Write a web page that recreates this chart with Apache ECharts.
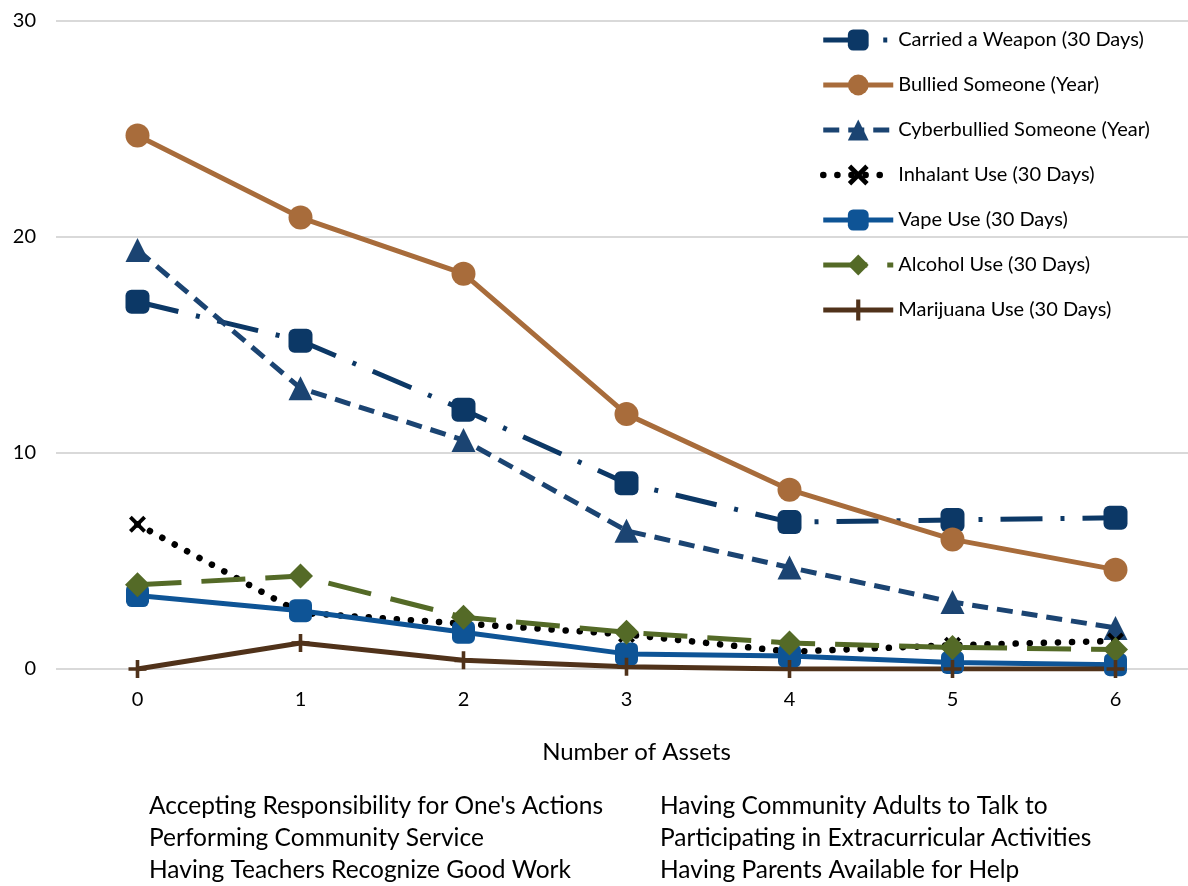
<!DOCTYPE html>
<html>
<head>
<meta charset="utf-8">
<script src="https://cdn.jsdelivr.net/npm/echarts@6/dist/echarts.min.js"></script>
<style>
  html, body { margin: 0; padding: 0; background: #fff; }
  #chart { width: 1188px; height: 886px; }
</style>
</head>
<body>
<div id="chart"></div>
<script>
// Number of developmental assets on the x axis
const categories = ['0', '1', '2', '3', '4', '5', '6'];
const yTicks = { min: 0, max: 30, interval: 10 };

// Percent of students reporting each behaviour
const weapon       = [17.0, 15.2, 12.0, 8.6, 6.8, 6.9, 7.0];
const bullied      = [24.7, 20.9, 18.3, 11.8, 8.3, 6.0, 4.6];
const cyberbullied = [19.4, 13.0, 10.6, 6.4, 4.7, 3.1, 1.9];
const inhalant     = [6.7, 2.6, 2.1, 1.6, 0.8, 1.1, 1.3];
const vape         = [3.4, 2.7, 1.7, 0.7, 0.6, 0.3, 0.2];
const alcohol      = [3.9, 4.3, 2.4, 1.7, 1.2, 1.0, 0.9];
const marijuana    = [0.0, 1.2, 0.4, 0.1, 0.0, 0.0, 0.0];

const seriesNames = [
  'Carried a Weapon (30 Days)',
  'Bullied Someone (Year)',
  'Cyberbullied Someone (Year)',
  'Inhalant Use (30 Days)',
  'Vape Use (30 Days)',
  'Alcohol Use (30 Days)',
  'Marijuana Use (30 Days)'
];

const assetsLeft = [
  "Accepting Responsibility for One's Actions",
  'Performing Community Service',
  'Having Teachers Recognize Good Work'
];
const assetsRight = [
  'Having Community Adults to Talk to',
  'Participating in Extracurricular Activities',
  'Having Parents Available for Help'
];

const FONT = 'Lato, "Open Sans", sans-serif';
const xMark = 'path://M0,1.6 L1.6,0 L10,8.4 L8.4,10 Z M8.4,0 L10,1.6 L1.6,10 L0,8.4 Z';
const plusMark = 'path://M4,0 L6,0 L6,4 L10,4 L10,6 L6,6 L6,10 L4,10 L4,6 L0,6 L0,4 L4,4 Z';

function line(name, data, color, width, type, symbol, size, cap) {
  return {
    name: name,
    type: 'line',
    data: data,
    symbol: symbol,
    symbolSize: size,
    showSymbol: true,
    animation: false,
    itemStyle: { color: color, borderWidth: 0 },
    lineStyle: { color: color, width: width, type: type, cap: cap || 'butt', join: 'round' },
    emphasis: { disabled: true }
  };
}

const textGraphics = [];
assetsLeft.forEach((t, i) => {
  textGraphics.push({
    type: 'text', x: 149, y: 806 + i * 32,
    style: { text: t, font: '24.5px ' + FONT, fill: '#000', verticalAlign: 'middle' }
  });
});
assetsRight.forEach((t, i) => {
  textGraphics.push({
    type: 'text', x: 660, y: 806 + i * 32,
    style: { text: t, font: '24.5px ' + FONT, fill: '#000', verticalAlign: 'middle' }
  });
});

const chart = echarts.init(document.getElementById('chart'), null, { renderer: 'canvas' });
chart.setOption({
  backgroundColor: '#ffffff',
  animation: false,
  grid: {
    left: 56, top: 21, width: 1141, bottom: 217,
    containLabel: false,
    outerBoundsMode: 'none'
  },
  xAxis: {
    type: 'category',
    data: categories,
    boundaryGap: true,
    name: 'Number of Assets',
    nameLocation: 'middle',
    nameGap: 71,
    nameTextStyle: { fontFamily: FONT, fontSize: 24, color: '#000', padding: [0, 0, 0, 20] },
    axisLine: { show: false },
    axisTick: { show: false },
    axisLabel: { fontFamily: FONT, fontSize: 20, color: '#000', margin: 21 }
  },
  yAxis: {
    type: 'value',
    min: yTicks.min, max: yTicks.max, interval: yTicks.interval,
    axisLine: { show: false },
    axisTick: { show: false },
    axisLabel: { fontFamily: FONT, fontSize: 20, color: '#000', margin: 20 },
    splitLine: { lineStyle: { color: '#d9d9d9', width: 2 } }
  },
  legend: {
    orient: 'vertical',
    left: 820,
    top: 27,
    padding: 0,
    itemWidth: 70,
    itemHeight: 26,
    itemGap: 19,
    selectedMode: false,
    lineStyle: { width: 'inherit' },
    textStyle: { fontFamily: FONT, fontSize: 20, color: '#000', lineHeight: 26 },
    data: seriesNames
  },
  graphic: textGraphics,
  series: [
    line(seriesNames[0], weapon, '#0c3866', 5, [42, 18, 4, 18], 'roundRect', 24),
    line(seriesNames[1], bullied, '#a86c3b', 5, 'solid', 'circle', 24),
    line(seriesNames[2], cyberbullied, '#1b4472', 5, [16, 9], 'triangle', 24),
    line(seriesNames[3], inhalant, '#000000', 6.5, [0.1, 14], xMark, 17, 'round'),
    line(seriesNames[4], vape, '#0e5496', 5, 'solid', 'roundRect', 23),
    line(seriesNames[5], alcohol, '#546a27', 5, [44, 20], 'diamond', 25),
    line(seriesNames[6], marijuana, '#50321a', 5, 'solid', plusMark, 18)
  ]
});
</script>
</body>
</html>
